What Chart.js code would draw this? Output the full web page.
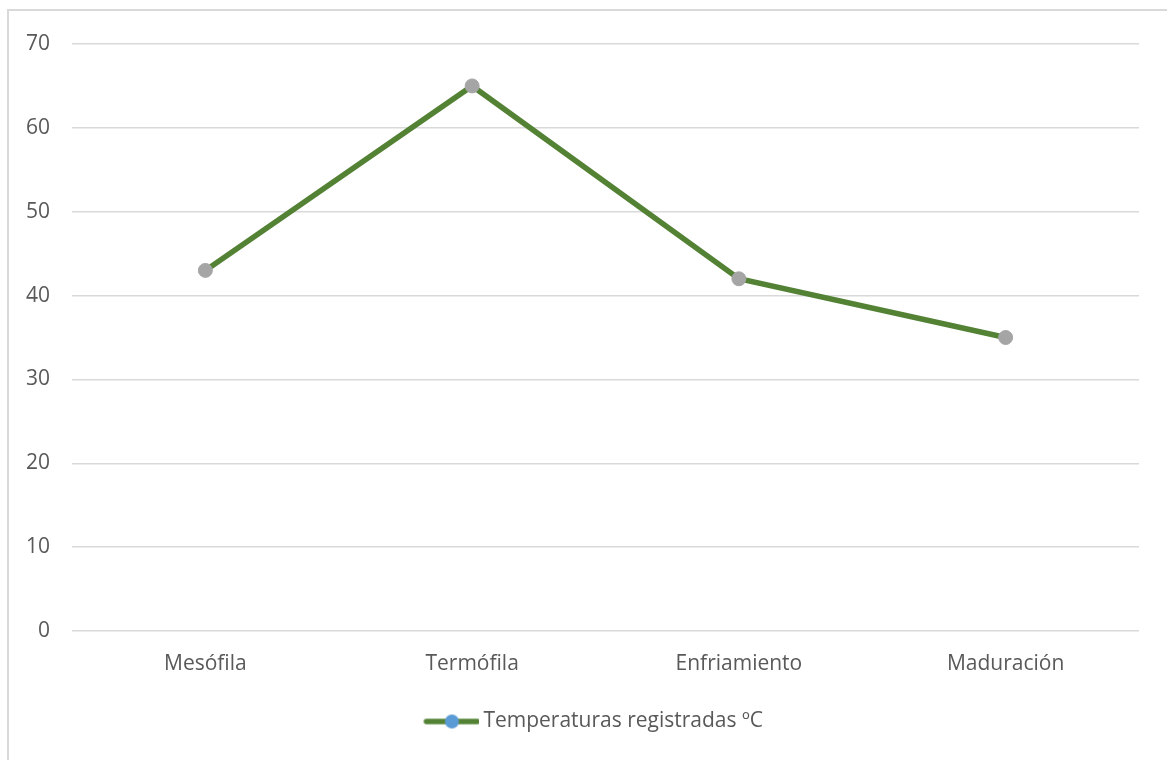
<!DOCTYPE html>
<html>
<head>
<meta charset="utf-8">
<script src="https://cdn.jsdelivr.net/npm/chart.js@4/dist/chart.umd.min.js"></script>
<style>
  html, body { margin: 0; padding: 0; background: #fff; }
  #wrap { position: absolute; left: 0; top: 0; width: 1167px; height: 760px; }
</style>
</head>
<body>
<div id="wrap"><canvas id="chart"></canvas></div>
<script>
// datos
var fases = ['Mesófila', 'Termófila', 'Enfriamiento', 'Maduración'];
var temperaturas = [43, 65, 42, 35];
var serieNombre = 'Temperaturas registradas ºC';
var yMin = 0, yMax = 70, yPaso = 10;

var verde = '#548235';
var gris = '#a5a5a5';
var azul = '#5b9bd5';
var texto = '#595959';
var rejilla = '#d9d9d9';

// icono de la leyenda: linea verde con punto azul (alineado a la derecha del lienzo)
var icono = document.createElement('canvas');
icono.width = 110;
icono.height = 18;
var ic = icono.getContext('2d');
ic.strokeStyle = verde;
ic.lineWidth = 5.5;
ic.lineCap = 'round';
ic.beginPath();
ic.moveTo(57, 9);
ic.lineTo(108, 9);
ic.stroke();
ic.fillStyle = azul;
ic.beginPath();
ic.arc(82.5, 9, 7, 0, Math.PI * 2);
ic.fill();

// marco gris del grafico
var marco = {
    id: 'marco',
    beforeDraw: function(chart) {
        var ctx = chart.ctx;
        ctx.save();
        ctx.strokeStyle = rejilla;
        ctx.lineWidth = 2;
        ctx.beginPath();
        ctx.moveTo(8, 760);
        ctx.lineTo(8, 10);
        ctx.lineTo(1167, 10);
        ctx.stroke();
        ctx.restore();
    }
};

new Chart(document.getElementById('chart'), {
    type: 'line',
    data: {
        labels: fases,
        datasets: [{
            label: serieNombre,
            data: temperaturas,
            borderColor: verde,
            borderWidth: 5.5,
            backgroundColor: gris,
            pointBackgroundColor: gris,
            pointBorderColor: gris,
            pointRadius: 7,
            pointBorderWidth: 1,
            tension: 0,
            fill: false
        }]
    },
    options: {
        responsive: true,
        maintainAspectRatio: false,
        animation: false,
        layout: { padding: { left: 0, right: 28, top: 44, bottom: 18 } },
        scales: {
            x: {
                offset: true,
                grid: { display: false, drawTicks: false },
                border: { display: false },
                ticks: { color: texto, padding: 20, font: { family: 'Open Sans', size: 21 } },
                afterFit: function(scale) { scale.height = 70; }
            },
            y: {
                min: yMin,
                max: yMax,
                grid: { color: rejilla, lineWidth: 1.5, drawTicks: false },
                border: { display: false },
                ticks: { stepSize: yPaso, color: texto, padding: 22, font: { family: 'Open Sans', size: 21 } },
                afterFit: function(scale) { scale.width = 72; }
            }
        },
        plugins: {
            legend: {
                position: 'bottom',
                labels: {
                    usePointStyle: true,
                    pointStyle: icono,
                    pointStyleWidth: 97,
                    color: texto,
                    padding: 10,
                    font: { family: 'Open Sans', size: 21 }
                }
            },
            tooltip: { enabled: false }
        }
    },
    plugins: [marco]
});
</script>
</body>
</html>
